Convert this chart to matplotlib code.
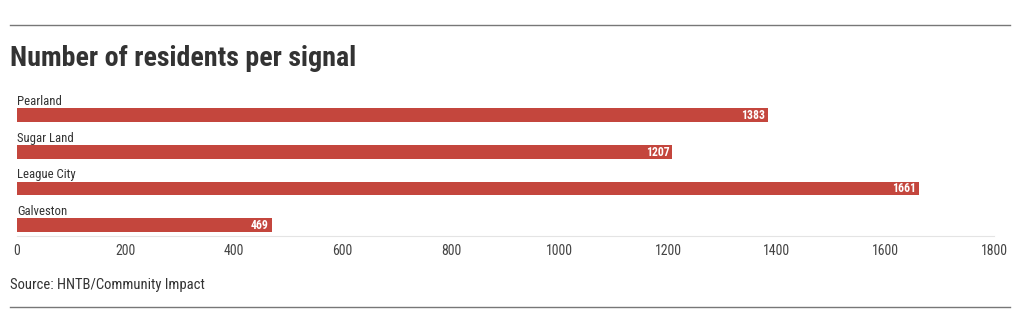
import numpy as np
from matplotlib import pyplot as plt
from matplotlib import font_manager

cities = ['Pearland', 'Sugar Land', 'League City', 'Galveston']
residents = [1383, 1207, 1661, 469]
ticks = [0, 200, 400, 600, 800, 1000, 1200, 1400, 1600, 1800]

names = {f.name for f in font_manager.fontManager.ttflist}
font = 'Roboto Condensed' if 'Roboto Condensed' in names else 'Roboto'
plt.rcParams['font.family'] = [font, 'DejaVu Sans']

W, H = 1020, 332
fig = plt.figure(figsize=(W / 100, H / 100), dpi=100)

# rules at top and bottom
fig.add_artist(plt.Line2D([10 / W, 1010 / W], [1 - 25 / H] * 2, color='#777777', lw=1))
fig.add_artist(plt.Line2D([10 / W, 1010 / W], [1 - 307 / H] * 2, color='#777777', lw=1))

fig.text(10 / W, 1 - 58 / H, 'Number of residents per signal', fontsize=20.2, fontweight='bold',
         color='#333333', va='center', ha='left')
fig.text(10 / W, 1 - 285 / H, 'Source: HNTB/Community Impact', fontsize=10.5,
         color='#333333', va='center', ha='left')

ax = fig.add_axes([17 / W, 1 - 236 / H, (994 - 17) / W, (236 - 86) / H])
y = np.arange(len(cities))
ax.barh(y, residents, height=0.37, color='#c4463d')
ax.set_xlim(0, 1800)
ax.set_ylim(3.3, -0.8)
for yi, name, v in zip(y, cities, residents):
    ax.text(0, yi - 0.2, name, fontsize=9.2, color='#333333', va='bottom', ha='left')
    ax.text(v - 5, yi + 0.01, str(v), fontsize=8.5, fontweight='bold', color='white',
            va='center', ha='right')

for s in ['top', 'right', 'left']:
    ax.spines[s].set_visible(False)
ax.spines['bottom'].set_color('#e4e4e4')
ax.set_yticks([])
ax.set_xticks(ticks)
ax.tick_params(axis='x', length=0, pad=6, labelsize=10, labelcolor='#444444')

plt.savefig('out.png', dpi=100)
